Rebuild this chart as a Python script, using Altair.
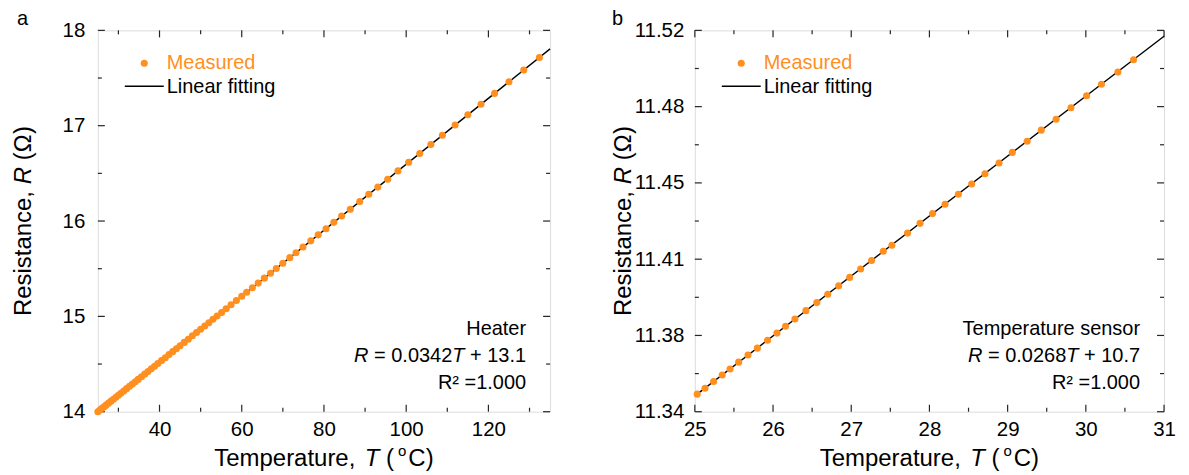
import altair as alt
import pandas as pd

# ---------------- data ----------------
heater_T = [25.0, 25.5, 26.0, 26.5, 27.0, 27.6, 28.2, 28.8, 29.4, 30.0, 30.6, 31.3, 32.0, 32.7, 33.4,
            34.1, 34.8, 35.6, 36.4, 37.2, 38.0, 38.8, 39.6, 40.5, 41.4, 42.3, 43.2, 44.1, 45.0, 46.0,
            47.0, 48.0, 49.0, 50.0, 51.0, 52.0, 53.0, 54.0, 55.1, 56.2, 57.4, 58.7, 60.0, 61.2, 62.6,
            64.0, 65.5, 67.0, 68.4, 70.0, 71.7, 73.2, 74.9, 76.8, 78.6, 80.5, 82.4, 84.3, 86.4, 88.7,
            90.9, 93.1, 95.5, 98.0, 100.6, 103.3, 106.0, 108.8, 111.9, 115.0, 118.2, 121.5, 125.0,
            128.6, 132.4]
heater_R = [14.000, 14.017, 14.035, 14.052, 14.069, 14.090, 14.111, 14.131, 14.152, 14.173, 14.194,
            14.218, 14.242, 14.266, 14.291, 14.315, 14.339, 14.367, 14.394, 14.422, 14.450, 14.477,
            14.505, 14.536, 14.567, 14.599, 14.630, 14.661, 14.692, 14.727, 14.761, 14.796, 14.830,
            14.865, 14.900, 14.934, 14.969, 15.003, 15.041, 15.080, 15.121, 15.166, 15.211, 15.253,
            15.301, 15.349, 15.401, 15.453, 15.502, 15.557, 15.616, 15.668, 15.727, 15.792, 15.855,
            15.920, 15.986, 16.052, 16.124, 16.204, 16.280, 16.356, 16.439, 16.526, 16.616, 16.709,
            16.803, 16.899, 17.007, 17.114, 17.225, 17.339, 17.460, 17.585, 17.716]
heater_fit_T = [25.0, 135.0]
heater_fit_R = [14.000, 17.806]

sensor_T = [25.03, 25.13, 25.24, 25.35, 25.45, 25.56, 25.68, 25.80, 25.93, 26.05, 26.16, 26.28,
            26.42, 26.56, 26.70, 26.84, 26.98, 27.12, 27.26, 27.41, 27.52, 27.72, 27.88, 28.04,
            28.20, 28.37, 28.54, 28.71, 28.89, 29.06, 29.25, 29.43, 29.62, 29.81, 30.01, 30.20,
            30.41, 30.61]
sensor_R = [11.3483, 11.3511, 11.3543, 11.3573, 11.3602, 11.3634, 11.3668, 11.3700, 11.3737,
            11.3771, 11.3803, 11.3838, 11.3877, 11.3915, 11.3954, 11.3994, 11.4034, 11.4074,
            11.4114, 11.4157, 11.4186, 11.4243, 11.4289, 11.4335, 11.4379, 11.4426, 11.4475,
            11.4523, 11.4574, 11.4624, 11.4677, 11.4729, 11.4780, 11.4835, 11.4891, 11.4946,
            11.5003, 11.5061]
sensor_fit_T = [25.0, 31.0]
sensor_fit_R = [11.3475, 11.5172]

# axis ticks / labels
heater_x_domain = [25, 135]
heater_y_domain = [14, 18]
heater_x_major = [40, 60, 80, 100, 120]
heater_x_minor = [30, 50, 70, 90, 110, 130]
heater_y_major = [14, 15, 16, 17, 18]
heater_y_minor = [14.5, 15.5, 16.5, 17.5]

sensor_x_domain = [25, 31]
sensor_y_domain = [11.34, 11.52]
sensor_x_major = [25, 26, 27, 28, 29, 30, 31]
sensor_x_minor = [25.5, 26.5, 27.5, 28.5, 29.5, 30.5]
sensor_y_major = [11.34, 11.376, 11.412, 11.448, 11.484, 11.52]
sensor_y_minor = [11.358, 11.394, 11.43, 11.466, 11.502]

# texts
panel_labels = ["a", "b"]
legend_labels = ["Measured", "Linear fitting"]
heater_notes = ["Heater", "0.0342", "13.1", "R\u00b2 =1.000"]
sensor_notes = ["Temperature sensor", "0.0268", "10.7", "R\u00b2 =1.000"]

# ---------------- style ----------------
FONT = "Liberation Sans"
ORANGE = "#FF8F1F"
FRAME = "#262626"
H = 382
W_A = 453
W_B = 470
MAJOR = 7
MINOR = 4
TICKFS = 20.5
TXTFS = 20
TITLEFS = 24

# Arial / Liberation Sans advance widths (per 1000 em)
AW = {" ": 278, "(": 333, ")": 333, ",": 278, ".": 278, "=": 584, "+": 584,
      "T": 611, "R": 722, "C": 722, "e": 556, "m": 833, "p": 556, "r": 333, "a": 556,
      "t": 278, "u": 556, "s": 500, "i": 222, "n": 556, "c": 500, "o": 556, "\u03a9": 768}
for d in "0123456789":
    AW[d] = 556


def tw(s, size):
    return sum(AW.get(c, 556) for c in s) * size / 1000.0


def sp(size):
    return 0.278 * size


def text(s, x, y, size, color="black", align="left", italic=False, angle=0, baseline="middle"):
    kw = dict(font=FONT, fontSize=size, color=color, align=align, baseline=baseline)
    if italic:
        kw["fontStyle"] = "italic"
    if angle:
        kw["angle"] = angle
    return alt.Chart(pd.DataFrame({"label": [s]})).mark_text(**kw).encode(
        text="label:N", x=alt.value(x), y=alt.value(y))


def run_h(pieces, x0, y):
    """pieces: (text, size, italic, dy, gap_before)"""
    out = []
    x = x0
    for s, size, it, dy, gap in pieces:
        x += gap
        out.append(text(s, x, y + dy, size, italic=it))
        x += tw(s, size)
    return out


def run_width(pieces):
    return sum(tw(s, size) + gap for s, size, it, dy, gap in pieces)


def x_title(W):
    f = TITLEFS
    pieces = [("Temperature,", f, False, 0, 0), ("T", f, True, 0, sp(f)),
              ("(", f, False, 0, sp(f)), ("o", 15, False, -8, 4), ("C)", f, False, 0, 2)]
    return run_h(pieces, W / 2 - run_width(pieces) / 2, H + 47)


def y_title(xc):
    f = TITLEFS
    pieces = [("Resistance,", False, 0), ("R", True, sp(f)), ("(", False, sp(f)),
              ("\u03a9", False, 0), (")", False, 0)]
    total = sum(tw(s, f) + g for s, _, g in pieces)
    y = H / 2 + total / 2
    out = []
    for s, it, g in pieces:
        y -= g
        out.append(text(s, xc, y, f, italic=it, angle=270))
        y -= tw(s, f)
    return out


def equation(coef, icpt, xr, y):
    f = TXTFS
    pieces = [("R", f, True, 0, 0), ("=", f, False, 0, sp(f)), (coef, f, False, 0, sp(f)),
              ("T", f, True, 0, 0), ("+", f, False, 0, sp(f)), (icpt, f, False, 0, sp(f))]
    return run_h(pieces, xr - run_width(pieces), y)


def panel(T, R, fitT, fitR, xdom, ydom, xmaj, xmin, ymaj, ymin, xfmt, yfmt, W,
          ylabpad, ytitle_x, plabel, plabel_x, notes):
    xs = alt.Scale(domain=xdom, nice=False, zero=False)
    ys = alt.Scale(domain=ydom, nice=False, zero=False)
    xaxis = alt.Axis(values=xmaj, format=xfmt, title=None, ticks=False, tickSize=0, domain=False,
                     grid=False, labelFont=FONT, labelFontSize=TICKFS, labelColor="black",
                     labelPadding=8, labelFlush=False, labelOverlap=False)
    yaxis = alt.Axis(values=ymaj, format=yfmt, title=None, ticks=False, tickSize=0, domain=False,
                     grid=False, labelFont=FONT, labelFontSize=TICKFS, labelColor="black",
                     labelPadding=ylabpad, labelFlush=False, labelOverlap=False)
    X = alt.X("T:Q", scale=xs, axis=xaxis)
    Y = alt.Y("R:Q", scale=ys, axis=yaxis)

    layers = []
    # tick marks (inward, all four sides)
    for vals, ln in ((xmaj, MAJOR), (xmin, MINOR)):
        df = pd.DataFrame({"T": vals})
        rule = alt.Chart(df).mark_rule(color=FRAME, strokeWidth=1.2)
        layers.append(rule.encode(x=X, y=alt.value(H), y2=alt.value(H - ln)))
        layers.append(rule.encode(x=X, y=alt.value(0), y2=alt.value(ln)))
    for vals, ln in ((ymaj, MAJOR), (ymin, MINOR)):
        df = pd.DataFrame({"R": vals})
        rule = alt.Chart(df).mark_rule(color=FRAME, strokeWidth=1.2)
        layers.append(rule.encode(y=Y, x=alt.value(0), x2=alt.value(ln)))
        layers.append(rule.encode(y=Y, x=alt.value(W), x2=alt.value(W - ln)))

    fit = alt.Chart(pd.DataFrame({"T": fitT, "R": fitR})).mark_line(
        color="black", strokeWidth=1.4).encode(x=X, y=Y)
    pts = alt.Chart(pd.DataFrame({"T": T, "R": R})).mark_circle(
        color=ORANGE, size=50, opacity=1).encode(x=X, y=Y)
    layers += [fit, pts]

    # legend
    layers.append(alt.Chart(pd.DataFrame({"k": [0]})).mark_circle(
        color=ORANGE, size=50, opacity=1).encode(x=alt.value(46.5), y=alt.value(33)))
    layers.append(alt.Chart(pd.DataFrame({"k": [0]})).mark_rule(
        color="black", strokeWidth=1.3).encode(x=alt.value(27), x2=alt.value(66), y=alt.value(56)))
    layers.append(text(legend_labels[0], 69, 33, TXTFS, color=ORANGE))
    layers.append(text(legend_labels[1], 69, 57, TXTFS))

    # annotation
    xr = W - 24
    layers.append(text(notes[0], xr, 299, TXTFS, align="right"))
    layers += equation(notes[1], notes[2], xr, 326)
    layers.append(text(notes[3], xr, 353, TXTFS, align="right"))

    # titles and panel letter
    layers += x_title(W)
    layers += y_title(ytitle_x)
    layers.append(text(plabel, plabel_x, -11.5, 20))

    return alt.layer(*layers).properties(width=W, height=H)


left = panel(heater_T, heater_R, heater_fit_T, heater_fit_R, heater_x_domain, heater_y_domain,
             heater_x_major, heater_x_minor, heater_y_major, heater_y_minor, "d", "d", W_A,
             13, -74, panel_labels[0], -81, heater_notes)
right = panel(sensor_T, sensor_R, sensor_fit_T, sensor_fit_R, sensor_x_domain, sensor_y_domain,
              sensor_x_major, sensor_x_minor, sensor_y_major, sensor_y_minor, "d", ".2f", W_B,
              11, -71, panel_labels[1], -83, sensor_notes)

chart = alt.hconcat(left, right, spacing=57).properties(
    padding={"left": 3, "top": 0, "right": 5, "bottom": 5}
).configure_view(stroke=FRAME, strokeWidth=1.2).configure(background="white")

chart.save("out.html", embed_options={"renderer": "svg", "actions": False})
